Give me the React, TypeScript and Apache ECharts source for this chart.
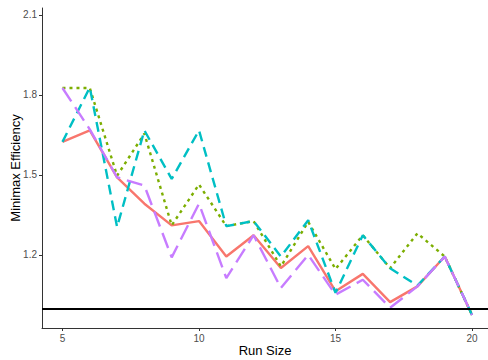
import React, { useEffect, useRef } from "react";
import * as echarts from "echarts";

const runSizes = [5, 6, 7, 8, 9, 10, 11, 12, 13, 14, 15, 16, 17, 18, 19, 20];
const redValues = [1.624, 1.667, 1.491, 1.392, 1.311, 1.327, 1.194, 1.274, 1.151, 1.233, 1.064, 1.129, 1.023, 1.082, 1.194, 0.975];
const greenValues = [1.826, 1.826, 1.497, 1.655, 1.311, 1.464, 1.308, 1.327, 1.157, 1.324, 1.147, 1.274, 1.15, 1.281, 1.194, 0.975];
const cyanValues = [1.624, 1.828, 1.305, 1.667, 1.485, 1.667, 1.308, 1.327, 1.194, 1.33, 1.058, 1.274, 1.15, 1.085, 1.194, 0.975];
const purpleValues = [1.826, 1.671, 1.491, 1.46, 1.191, 1.392, 1.113, 1.274, 1.076, 1.2, 1.051, 1.107, 1.002, 1.082, 1.194, 0.975];
const xTicks = [5, 10, 15, 20];
const yTicks = [1.2, 1.5, 1.8, 2.1];
const refLine = 1.0;

const pair = (vals: number[]) => runSizes.map((x, i) => [x, vals[i]]);

export default function App() {
  const ref = useRef<HTMLDivElement>(null);
  useEffect(() => {
    if (!ref.current) return;
    const chart = echarts.init(ref.current, null, { renderer: "svg" });
    const font = "Liberation Sans, Arial, sans-serif";
    const mk = (vals: number[], color: string, dash: any) => ({
      type: "line",
      data: pair(vals),
      showSymbol: false,
      symbol: "none",
      lineStyle: { color, width: 2.4, type: dash, cap: "butt" },
    });
    chart.setOption({
      animation: false,
      backgroundColor: "#ffffff",
      grid: { left: 42, right: 0, top: 8, bottom: 32, containLabel: false, outerBoundsMode: "none" },
      xAxis: {
        type: "value",
        min: 4.25,
        max: 20.585,
        name: "Run Size",
        nameLocation: "middle",
        nameGap: 16,
        nameMoveOverlap: false,
        nameTextStyle: { color: "#000", fontSize: 13, fontFamily: font },
        splitLine: { show: false },
        axisLine: { show: true, lineStyle: { color: "#333", width: 1 } },
        axisTick: { show: true, length: 3, lineStyle: { color: "#333" }, customValues: xTicks },
        axisLabel: { color: "#4d4d4d", fontSize: 10, fontFamily: font, margin: 5, customValues: xTicks },
      },
      yAxis: {
        type: "value",
        min: 0.926,
        max: 2.126,
        name: "Minimax Efficiency",
        nameLocation: "middle",
        nameGap: 20,
        nameMoveOverlap: false,
        nameTextStyle: { color: "#000", fontSize: 13, fontFamily: font },
        splitLine: { show: false },
        axisLine: { show: true, lineStyle: { color: "#333", width: 1 } },
        axisTick: { show: true, length: 3, lineStyle: { color: "#333" }, customValues: yTicks },
        axisLabel: { color: "#4d4d4d", fontSize: 10, fontFamily: font, margin: 5, customValues: yTicks, formatter: (v: number) => v.toFixed(1) },
      },
      series: [
        mk(redValues, "#F8766D", "solid"),
        mk(greenValues, "#7CAE00", [3, 4]),
        mk(cyanValues, "#00BFC4", [10, 6]),
        mk(purpleValues, "#C77CFF", [16, 7]),
        {
          type: "line",
          data: [],
          markLine: {
            silent: true,
            symbol: "none",
            label: { show: false },
            lineStyle: { color: "#000", width: 2, type: "solid" },
            data: [{ yAxis: refLine }],
          },
        },
      ],
    });
    return () => chart.dispose();
  }, []);
  return <div ref={ref} style={{ width: 488, height: 360, position: "absolute", left: 0, top: 0 }} />;
}
